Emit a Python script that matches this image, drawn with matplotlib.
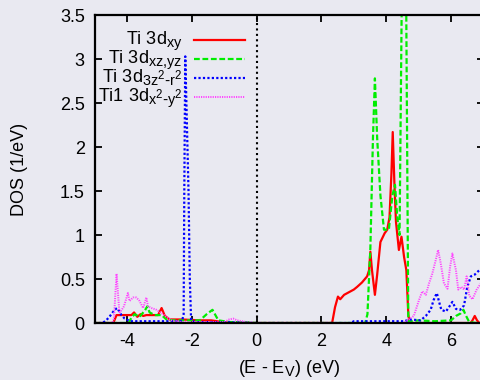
import matplotlib
matplotlib.use("Agg")
import matplotlib.pyplot as plt
import matplotlib._mathtext as mathtext_internal
from matplotlib.ticker import FormatStrFormatter

plt.rcParams['font.family'] = ['Liberation Sans', 'DejaVu Sans']
plt.rcParams['mathtext.default'] = 'regular'
plt.rcParams['axes.unicode_minus'] = False
# gnuplot sub/superscripts are a bit larger than the mathtext default
mathtext_internal.SHRINK_FACTOR = 0.8

BG = '#e9e9f1'

# Ti 3d_xy
xy_e = [-5.0, -4.42, -4.32, -3.86, -3.78, -3.68, -3.58, -3.5, -3.4, -3.04, -2.93, -2.83,
        -2.68, -2.3, -1.75, -1.4, -1.04, -0.73, 2.33, 2.42, 2.51, 2.58, 2.7, 2.85, 3.0,
        3.1, 3.25, 3.41, 3.47, 3.51, 3.56, 3.65, 3.72, 3.82, 3.95, 4.03, 4.1, 4.16, 4.2,
        4.25, 4.3, 4.39, 4.47, 4.55, 4.62, 4.68, 4.72, 6.6, 6.66, 6.73, 6.8, 6.87, 7.0]
xy_dos = [0, 0, 0.09, 0.09, 0.12, 0.07, 0.1, 0.08, 0.09, 0.09, 0.17, 0.08,
          0.04, 0.04, 0.03, 0.03, 0.01, 0, 0, 0.18, 0.3, 0.27, 0.32, 0.35, 0.38,
          0.41, 0.46, 0.53, 0.6, 0.81, 0.6, 0.32, 0.55, 0.92, 1.02, 1.06, 1.2, 1.7, 2.17,
          1.6, 1.15, 0.83, 0.98, 0.75, 0.6, 0.1, 0, 0, 0.03, 0.08, 0.03, 0, 0]

# Ti 3d_xz,yz
xz_e = [-5.0, -3.95, -3.86, -3.76, -3.61, -3.45, -3.37, -3.3, -3.14, -2.93, -2.78, -2.6,
        -2.3, -1.75, -1.54, -1.36, -1.18, -0.82, -0.3, 0.0, 3.35, 3.42, 3.51, 3.59, 3.65,
        3.72, 3.82, 3.93, 4.08, 4.19, 4.27, 4.34, 4.41, 4.5, 4.6, 4.68, 4.75, 5.0, 5.5,
        6.0, 6.15, 6.3, 6.38, 6.45, 6.56, 6.8, 7.0]
xz_dos = [0, 0, 0.06, 0.1, 0.07, 0.14, 0.19, 0.12, 0.09, 0.09, 0.04, 0.03,
          0.03, 0.03, 0.1, 0.15, 0.03, 0.01, 0.01, 0, 0, 0.1, 0.85, 2.1, 2.78,
          2.1, 1.45, 1.06, 1.06, 1.45, 1.57, 1.2, 1.0, 4.5, 4.5, 0.02, 0.02, 0.03, 0.02,
          0.03, 0.08, 0.11, 0.15, 0.09, 0.01, 0, 0]

# Ti 3d_3z2-r2
z2_e = [-5.0, -4.75, -4.64, -4.54, -4.38, -4.3, -4.17, -4.07, -3.9, -3.0, -2.4, -2.3,
        -2.25, -2.23, -2.2, -2.1, -2.06, -2.02, -1.9, -1.0, 0.0, 2.9, 3.0, 4.0, 4.54,
        4.75, 5.06, 5.22, 5.37, 5.46, 5.56, 5.63, 5.7, 5.84, 5.97, 6.04, 6.15, 6.28, 6.4,
        6.5, 6.61, 6.73, 6.87, 7.0]
z2_dos = [0, 0, 0.03, 0.07, 0.15, 0.17, 0.09, 0.05, 0.02, 0.02, 0.02, 0.02,
          0.1, 1.5, 3.03, 1.5, 0.5, 0.03, 0.01, 0.01, 0, 0, 0.02, 0.02, 0.02,
          0.04, 0.03, 0.08, 0.15, 0.26, 0.34, 0.24, 0.15, 0.13, 0.2, 0.24, 0.16, 0.15, 0.2,
          0.41, 0.53, 0.55, 0.6, 0.62]

# Ti1 3d_x2-y2
x2_e = [-5.0, -4.45, -4.4, -4.32, -4.23, -4.09, -3.97, -3.92, -3.81, -3.71, -3.61, -3.5,
        -3.4, -3.35, -3.24, -3.09, -2.93, -2.78, -2.63, -2.3, -1.0, -0.85, -0.72, -0.6,
        -0.3, 0.0, 4.55, 4.65, 4.85, 5.01, 5.11, 5.22, 5.32, 5.42, 5.53, 5.6, 5.68, 5.78,
        5.89, 5.97, 6.04, 6.15, 6.22, 6.32, 6.4, 6.48, 6.56, 6.66, 6.79, 6.92, 7.0]
x2_dos = [0, 0, 0.05, 0.56, 0.11, 0.19, 0.34, 0.25, 0.29, 0.29, 0.25, 0.17,
          0.29, 0.19, 0.17, 0.15, 0.11, 0.07, 0.03, 0.01, 0.01, 0.04, 0.05, 0.03,
          0.01, 0, 0, 0.03, 0.08, 0.26, 0.36, 0.32, 0.45, 0.56, 0.72, 0.83, 0.68, 0.45,
          0.39, 0.64, 0.79, 0.6, 0.38, 0.41, 0.38, 0.53, 0.31, 0.27, 0.38, 0.45, 0.47]

labels = ['Ti 3d$_{xy}$', 'Ti 3d$_{xz{,}yz}$', r'Ti 3d$_{3z^2\text{-}r^2}$',
          r'Ti1 3d$_{x^2\text{-}y^2}$']
colors = ['#ff0000', '#00ee00', '#0000ff', '#ff44ff']
styles = [dict(ls='-', lw=1.6),
          dict(ls=(0, (2.6, 1.2)), lw=1.6),
          dict(ls=(0, (1.0, 1.0)), lw=1.6),
          dict(ls=(0, (0.6, 0.6)), lw=1.4)]

fig = plt.figure(figsize=(4.8, 3.8), dpi=100, facecolor=BG)
ax = fig.add_axes([94.5 / 480, 57 / 380, 389 / 480, 308 / 380], facecolor=BG)

series = [(xy_e, xy_dos), (xz_e, xz_dos), (z2_e, z2_dos), (x2_e, x2_dos)]
for (e, d), c, st in zip(series, colors, styles):
    ax.plot(e, d, color=c, **st)

ax.axvline(0, color='black', ls=(0, (1.0, 1.6)), lw=1.5)

ax.set_xlim(-5, 7)
ax.set_ylim(0, 3.5)
ax.set_xticks([-4, -2, 0, 2, 4, 6])
ax.set_yticks([0, 0.5, 1, 1.5, 2, 2.5, 3, 3.5])
ax.yaxis.set_major_formatter(FormatStrFormatter('%g'))
ax.tick_params(direction='in', length=5, width=1.3, top=True, right=True,
               labelsize=13, pad=7, colors='black')
for s in ax.spines.values():
    s.set_linewidth(1.6)

ax.set_ylabel('DOS (1/eV)', fontsize=13)
ax.yaxis.set_label_coords(-0.17, 0.5)
ax.set_xlabel('(E - E$_V$) (eV)', fontsize=13, labelpad=6)

# key, gnuplot style: text right aligned, sample on the right
for i, (lab, c, st) in enumerate(zip(labels, colors, styles)):
    y = 1 - (39.5 + 19.1 * i - 15) / 308
    ax.text(0.226, y - 0.014, lab, transform=ax.transAxes, ha='right', va='baseline',
            fontsize=13)
    ax.plot([0.2545, 0.388], [y, y], transform=ax.transAxes, color=c, **st)

fig.savefig('out.png', dpi=100, facecolor=BG)
